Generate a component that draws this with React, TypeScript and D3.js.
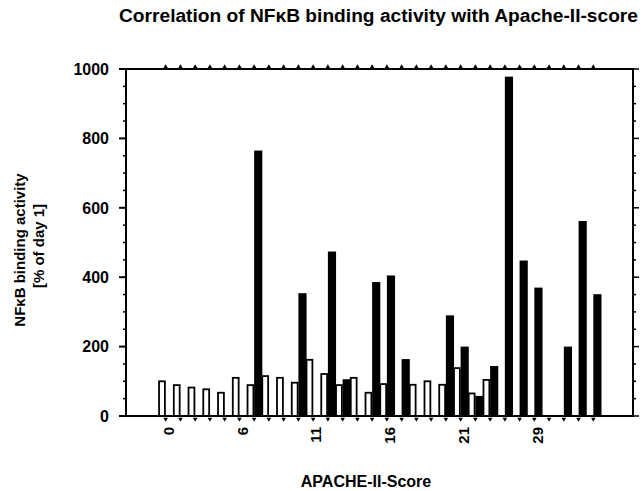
import * as d3 from 'd3';

// APACHE-II score slots (30 patients / categories along the x axis)
const slots = [
  0, 1, 2, 3, 4, 5, 6, 7, 8, 9, 10, 11, 12, 13, 14,
  15, 16, 17, 18, 19, 20, 21, 22, 23, 24, 25, 26, 27, 28, 29,
];
// slots that carry a tick label, and their labels
const labelSlots = [0, 5, 10, 15, 20, 25];
const labelTexts = ['0', '6', '11', '16', '21', '29'];

// white bars (open) and black bars (filled), % of day 1
const whiteValues = [
  100, 89, 82, 77, 67, 110, 89, 115, 110, 96, 162, 121, 89, 110, 67,
  92, null, 90, 100, 90, 138, 65, 104, null, null, null, null, null, null, null,
];
const blackValues = [
  null, null, null, null, null, null, 765, null, null, 354, null, 474, 106, null, 386,
  405, 164, null, null, 290, 200, 58, 144, 978, 448, 370, null, 200, 562, 351,
];

const yMajorTicks = [0, 200, 400, 600, 800, 1000];

const W = 644;
const H = 491;
const left = 126;
const right = 633;
const top = 69;
const bottom = 416;
const font = '"Liberation Sans", Arial, Helvetica, sans-serif';

export default function App() {
  const x = d3
    .scaleBand<number>()
    .domain(slots)
    .range([left, right])
    .paddingInner(0)
    .paddingOuter(2.19);
  const half = x.bandwidth() / 2;

  const y = d3.scaleLinear().domain([0, 1000]).range([bottom, top]);
  const minorTicks = y.ticks(20);

  const tri = d3.symbol().type(d3.symbolTriangle).size(9);

  return (
    <svg
      width={W}
      height={H}
      style={{ position: 'absolute', left: 0, top: 0, background: '#fff' }}
      fontFamily={font}
      fontWeight="bold"
    >
      {/* title */}
      <text
        x={119}
        y={22}
        fontSize={18}
        textLength={519}
        lengthAdjust="spacingAndGlyphs"
      >
        Correlation of NFκB binding activity with Apache-II-score
      </text>

      {/* bars */}
      {slots.map((s, i) => {
        const cx = x(s)!;
        const w = whiteValues[i];
        const b = blackValues[i];
        return (
          <g key={s}>
            {w != null && (
              <rect
                x={cx + 0.75}
                y={y(w)}
                width={half - 1.5}
                height={bottom - y(w)}
                fill="#fff"
                stroke="#000"
                strokeWidth={1.8}
              />
            )}
            {b != null && (
              <rect
                x={cx + half}
                y={y(b)}
                width={half + 0.8}
                height={bottom - y(b)}
                fill="#000"
              />
            )}
          </g>
        );
      })}

      {/* frame */}
      <rect
        x={left}
        y={top}
        width={right - left}
        height={bottom - top}
        fill="none"
        stroke="#000"
        strokeWidth={2}
      />

      {/* left and right axis ticks */}
      {minorTicks.map((t) => {
        const major = yMajorTicks.includes(t);
        return (
          <g key={'l' + t}>
            <line
              x1={left - (major ? 7 : 3)}
              x2={left}
              y1={y(t)}
              y2={y(t)}
              stroke="#000"
              strokeWidth={major ? 2 : 1.5}
            />
            <line
              x1={right}
              x2={right + (major ? 6 : 3)}
              y1={y(t)}
              y2={y(t)}
              stroke="#000"
              strokeWidth={1.5}
            />
          </g>
        );
      })}
      {yMajorTicks.map((t) => (
        <text
          key={'yl' + t}
          x={109}
          y={y(t)}
          dy="0.36em"
          textAnchor="end"
          fontSize={16}
        >
          {t}
        </text>
      ))}

      {/* category ticks (bottom and top) */}
      {slots.map((s) => {
        const cx = x(s)! + half;
        return (
          <g key={'t' + s}>
            <path
              d={tri()!}
              transform={`translate(${cx},${bottom + 3}) rotate(180)`}
              fill="#000"
            />
            <path d={tri()!} transform={`translate(${cx},${top - 2})`} fill="#000" />
          </g>
        );
      })}
      {labelSlots.map((s, i) => (
        <text
          key={'xl' + s}
          transform={`translate(${x(s)! + half + 3},${427}) rotate(-90)`}
          dy="0.35em"
          textAnchor="end"
          fontSize={15}
        >
          {labelTexts[i]}
        </text>
      ))}

      {/* axis titles */}
      <text x={366} y={487} textAnchor="middle" fontSize={16}>
        APACHE-II-Score
      </text>
      <text transform="translate(25,250) rotate(-90)" textAnchor="middle" fontSize={15}>
        NFκB binding activity
      </text>
      <text transform="translate(44,246) rotate(-90)" textAnchor="middle" fontSize={15}>
        [% of day 1]
      </text>
    </svg>
  );
}
